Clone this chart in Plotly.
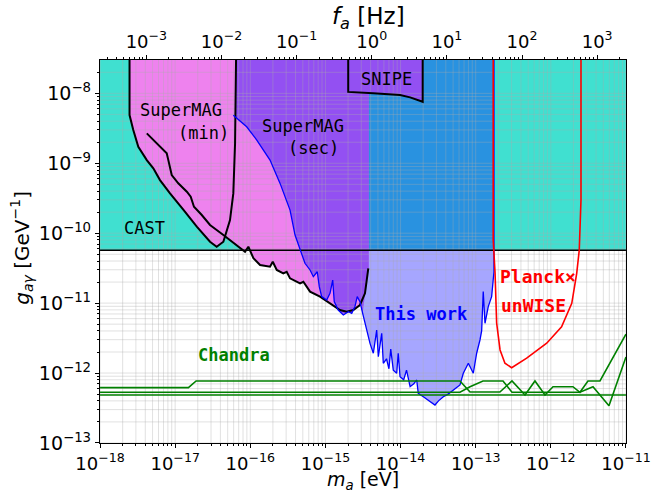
import numpy as np
import plotly.graph_objects as go

# ---------------- data ----------------
EV_TO_HZ = 2.418e14
M_MIN, M_MAX = 1e-18, 1e-11
G_MIN, G_MAX = 1e-13, 3e-8

m_ticks = [1e-18, 1e-17, 1e-16, 1e-15, 1e-14, 1e-13, 1e-12, 1e-11]
m_ticktext = ["10<sup>−18</sup>", "10<sup>−17</sup>", "10<sup>−16</sup>", "10<sup>−15</sup>",
              "10<sup>−14</sup>", "10<sup>−13</sup>", "10<sup>−12</sup>", "10<sup>−11</sup>"]
f_ticks = [1e-3, 1e-2, 1e-1, 1e0, 1e1, 1e2, 1e3]
f_ticktext = ["10<sup>−3</sup>", "10<sup>−2</sup>", "10<sup>−1</sup>", "10<sup>0</sup>",
              "10<sup>1</sup>", "10<sup>2</sup>", "10<sup>3</sup>"]
g_ticks = [1e-13, 1e-12, 1e-11, 1e-10, 1e-9, 1e-8]
g_ticktext = ["10<sup>−13</sup>", "10<sup>−12</sup>", "10<sup>−11</sup>", "10<sup>−10</sup>",
              "10<sup>−9</sup>", "10<sup>−8</sup>"]

# CAST helioscope limit
cast_m = [1e-18, 1e-11]
cast_g = [5.7e-11, 5.7e-11]

# SuperMAG (min) U-shaped region
smin_m = [2.47e-18, 2.47e-18, 2.77e-18, 3.23e-18, 4.19e-18, 5.12e-18, 6.28e-18, 8.54e-18,
          1.29e-17, 1.94e-17, 2.91e-17, 3.57e-17, 4.38e-17, 5.37e-17, 5.94e-17, 6.27e-17, 6.46e-17]
smin_g = [3e-8, 4.9e-9, 2.99e-9, 1.72e-9, 1.11e-9, 8.47e-10, 5.75e-10, 3.71e-10,
          2.15e-10, 1.24e-10, 7.55e-11, 6.41e-11, 7.55e-11, 1.54e-10, 3.71e-10, 1.93e-9, 3e-8]

# SuperMAG lower boundary (second analysis)
smag2_m = [4.19e-18, 5.12e-18, 6.62e-18, 7.72e-18, 8.11e-18, 9.0e-18, 1.10e-17, 1.43e-17,
           1.61e-17, 1.78e-17, 2.26e-17, 2.91e-17, 4.38e-17, 6.59e-17, 8.51e-17, 9.42e-17,
           1.10e-16, 1.35e-16, 1.83e-16, 1.99e-16, 2.25e-16, 2.75e-16, 3.05e-16, 3.38e-16,
           4.59e-16, 5.08e-16, 6.24e-16, 8.47e-16, 1.15e-15, 1.56e-15, 1.92e-15, 2.35e-15,
           2.88e-15, 3.36e-15, 3.72e-15]
smag2_g = [2.68e-9, 2.15e-9, 1.64e-9, 1.39e-9, 1.11e-9, 6.79e-10, 5.17e-10, 3.92e-10,
           3.32e-10, 2.39e-10, 1.82e-10, 1.31e-10, 9.42e-11, 6.78e-11, 5.43e-11, 6.41e-11,
           4.38e-11, 3.51e-11, 3.32e-11, 3.91e-11, 2.98e-11, 2.67e-11, 2.81e-11, 2.26e-11,
           1.92e-11, 2.02e-11, 1.46e-11, 1.24e-11, 9.93e-12, 7.97e-12, 7.54e-12, 7.97e-12,
           9.4e-12, 1.38e-11, 3.15e-11]

# SuperMAG (sec) region boundary
ssec_m = [6.46e-17, 5.94e-17, 8.95e-17, 1.22e-16, 1.83e-16, 2.49e-16, 3.38e-16, 3.94e-16,
          4.83e-16, 5.34e-16, 6.24e-16, 6.90e-16, 7.79e-16, 8.28e-16, 8.91e-16, 1.04e-15,
          1.15e-15, 1.25e-15, 1.31e-15, 1.48e-15, 1.73e-15, 2.02e-15, 2.24e-15, 2.47e-15,
          2.65e-15, 2.88e-15, 3.13e-15, 3.36e-15, 3.72e-15, 3.78e-15, 3.78e-15]
ssec_g = [3e-8, 4.88e-9, 3.33e-9, 2.15e-9, 1.11e-9, 5.16e-10, 2.14e-10, 9.42e-11,
          5.15e-11, 3.71e-11, 2.98e-11, 2.39e-11, 2.81e-11, 1.72e-11, 1.24e-11, 1.11e-11,
          1.38e-11, 2.14e-11, 1.05e-11, 7.97e-12, 6.76e-12, 7.54e-12, 7.14e-12, 8.9e-12,
          1.24e-11, 1.05e-11, 7.14e-12, 1.38e-11, 3.15e-11, 3.15e-11, 3e-8]

# SNIPE
snipe_m = [2.01e-15, 2.01e-15, 4.33e-15, 7.23e-15, 9.83e-15, 1.34e-14, 1.97e-14, 1.97e-14]
snipe_g = [3e-8, 1.05e-8, 1.0e-8, 9.68e-9, 9.46e-9, 8.77e-9, 7.59e-9, 3e-8]

# This work
tw_m = [5.94e-17, 8.95e-17, 1.22e-16, 1.83e-16, 2.49e-16, 3.38e-16, 3.94e-16, 4.83e-16,
        5.34e-16, 6.24e-16, 6.90e-16, 7.79e-16, 8.28e-16, 8.91e-16, 1.04e-15, 1.15e-15,
        1.25e-15, 1.31e-15, 1.48e-15, 1.73e-15, 2.02e-15, 2.24e-15, 2.47e-15, 2.65e-15,
        2.88e-15, 3.13e-15, 3.47e-15, 3.92e-15, 4.34e-15, 4.6e-15, 4.81e-15, 5.06e-15, 5.3e-15,
        5.61e-15, 5.89e-15, 6.5e-15, 7.0e-15, 7.4e-15, 8.0e-15, 8.88e-15, 9.31e-15, 9.84e-15,
        1.1e-14, 1.2e-14, 1.34e-14, 1.5e-14, 1.64e-14, 1.72e-14, 2.01e-14, 2.4e-14,
        2.87e-14, 3.2e-14, 3.71e-14, 4.3e-14, 5.04e-14, 6.18e-14, 6.84e-14, 7.98e-14, 9.29e-14,
        1.03e-13, 1.14e-13, 1.2e-13, 1.26e-13, 1.33e-13, 1.47e-13, 1.63e-13, 1.75e-13, 1.75e-13]
tw_g = [4.88e-9, 3.33e-9, 2.15e-9, 1.11e-9, 5.16e-10, 2.14e-10, 9.42e-11, 5.15e-11,
        3.71e-11, 2.98e-11, 2.39e-11, 2.81e-11, 1.72e-11, 1.24e-11, 1.11e-11, 1.38e-11,
        2.14e-11, 1.05e-11, 7.97e-12, 6.76e-12, 7.54e-12, 7.14e-12, 8.9e-12, 1.24e-11,
        1.05e-11, 7.14e-12, 4.6e-12, 2.66e-12, 1.92e-12, 2.9e-12, 4.12e-12, 1.71e-12, 2.6e-12,
        3.7e-12, 1.38e-12, 1.6e-12, 1.15e-12, 2.2e-12, 1.1e-12, 9.93e-13, 1.92e-12, 8.87e-13,
        8.0e-13, 1.1e-12, 6.38e-13, 7.0e-13, 7.96e-13, 5.13e-13, 4.59e-13, 4.0e-13,
        3.49e-13, 4.0e-13, 4.59e-13, 5.0e-13, 5.73e-13, 6.75e-13, 9.93e-13, 1.38e-12, 9.93e-13,
        1.92e-12, 2.97e-12, 4.0e-12, 1.46e-11, 5.14e-12, 8.9e-12, 1.24e-11, 2.81e-11, 3e-8]

# Planck x unWISE
pl_m = [1.71e-13, 1.71e-13, 1.81e-13, 1.90e-13, 2.11e-13, 2.45e-13, 3.01e-13, 4.77e-13,
        8.81e-13, 1.39e-12, 1.90e-12, 2.21e-12, 2.39e-12, 2.52e-12, 2.52e-12]
pl_g = [3e-8, 8.0e-11, 2.70e-11, 5.2e-12, 2.14e-12, 1.38e-12, 1.19e-12, 1.63e-12,
        2.67e-12, 4.6e-12, 9.93e-12, 2.67e-11, 5.75e-11, 2.98e-10, 3e-8]

# Chandra
ch1_m = [1e-18, 1.5e-17, 1.9e-17, 6.18e-14, 8.4e-14, 2.1e-13, 3.04e-13, 4.53e-13, 6.15e-13,
         8.36e-13, 1.07e-12, 1.97e-12, 2.44e-12, 3.12e-12, 4.51e-12, 1e-11]
ch1_g = [6.18e-13, 6.18e-13, 7.7e-13, 7.7e-13, 5.36e-13, 5.36e-13, 7.7e-13, 4.86e-13, 7.7e-13,
         4.86e-13, 6.38e-13, 6.38e-13, 5.31e-13, 7.7e-13, 7.7e-13, 3.6e-12]
ch2_m = [1e-18, 6.18e-14, 8.4e-14, 1.25e-13, 2.31e-13, 3.04e-13, 2.44e-12, 3.64e-12, 5.94e-12, 1e-11]
ch2_g = [5.31e-13, 5.31e-13, 6.38e-13, 7.7e-13, 7.7e-13, 5.31e-13, 5.31e-13, 6.38e-13, 3.41e-13, 1.7e-12]
ch3_m = [1e-18, 1e-11]
ch3_g = [4.86e-13, 4.86e-13]

TURQ = "#40E0D0"
PINK = "#EE82EE"
PURP = "#9350F2"
TW_FILL = "rgba(0,0,255,0.35)"

fig = go.Figure()

def poly(xs, ys, color):
    fig.add_trace(go.Scatter(x=xs, y=ys, mode="lines", fill="toself", fillcolor=color,
                             line=dict(width=0), hoverinfo="skip", showlegend=False))

def line(xs, ys, color, w):
    fig.add_trace(go.Scatter(x=xs, y=ys, mode="lines", line=dict(color=color, width=w),
                             hoverinfo="skip", showlegend=False))

# fills
poly([cast_m[0], cast_m[1], cast_m[1], cast_m[0]], [cast_g[0], cast_g[1], G_MAX, G_MAX], TURQ)
poly(tw_m + [tw_m[0]], tw_g + [G_MAX], TW_FILL)
poly([smag2_m[0]] + smag2_m + [smag2_m[-1]], [G_MAX] + smag2_g + [G_MAX], PINK)
poly(ssec_m, ssec_g, PURP)
poly(smin_m, smin_g, PINK)
poly(snipe_m, snipe_g, PURP)

# grid (drawn above the fills, below the lines)
minor_m, minor_g = [], []
for k in range(-18, -11):
    for j in range(2, 10):
        minor_m.append(j * 10.0 ** k)
for k in range(-13, -7):
    for j in range(2, 10):
        if j * 10.0 ** k <= G_MAX:
            minor_g.append(j * 10.0 ** k)
minor_f = []
for k in range(-4, 4):
    for j in range(2, 10):
        v = j * 10.0 ** k
        if M_MIN * EV_TO_HZ <= v <= M_MAX * EV_TO_HZ:
            minor_f.append(v)

gx, gy = [], []
for v in m_ticks + minor_m:
    gx += [v, v, None]
    gy += [G_MIN, G_MAX, None]
for v in g_ticks + minor_g:
    gx += [M_MIN, M_MAX, None]
    gy += [v, v, None]
fig.add_trace(go.Scatter(x=gx, y=gy, mode="lines", line=dict(color="rgba(170,170,170,0.45)", width=0.8),
                         hoverinfo="skip", showlegend=False))

# lines
line(cast_m, cast_g, "black", 1.5)
line(smin_m, smin_g, "black", 2)
line(smag2_m, smag2_g, "black", 2)
line(snipe_m, snipe_g, "black", 2)
line(tw_m, tw_g, "blue", 1.3)
line(pl_m, pl_g, "red", 1.6)
line(ch1_m, ch1_g, "green", 1.6)
line(ch2_m, ch2_g, "green", 1.6)
line(ch3_m, ch3_g, "green", 1.6)

# dummy trace for the frequency axis
fig.add_trace(go.Scatter(x=[M_MIN * EV_TO_HZ, M_MAX * EV_TO_HZ], y=[G_MIN, G_MIN], xaxis="x2",
                         mode="markers", marker=dict(opacity=0), hoverinfo="skip", showlegend=False))

MONO = "DejaVu Sans Mono"
def label(x, y, text, color="black", size=17):
    fig.add_annotation(x=np.log10(x), y=np.log10(y), text=text, showarrow=False,
                       font=dict(family=MONO, size=size, color=color), xref="x", yref="y")

label(1.2e-17, 5.77e-9, "SuperMAG")
label(2.35e-17, 2.7e-9, "(min)")
label(5.03e-16, 3.4e-9, "SuperMAG")
label(6.84e-16, 1.65e-9, "(sec)")
label(6.4e-15, 1.6e-8, "SNIPE")
label(3.86e-18, 1.19e-10, "CAST")
label(1.87e-14, 6.98e-12, "<b>This work</b>", "blue")
label(6.75e-13, 2.38e-11, "<b>Planck×</b>", "red", 18)
label(5.79e-13, 9.4e-12, "<b>unWISE</b>", "red", 18)
label(6.07e-17, 1.82e-12, "<b>Chandra</b>", "green")

# axis titles
fig.add_annotation(xref="paper", yref="paper", x=0.5, y=0, yanchor="middle", yshift=-37,
                   text="<i>m<sub>a</sub></i> [eV]", showarrow=False,
                   font=dict(family="DejaVu Sans", size=19, color="black"))
fig.add_annotation(xref="paper", yref="paper", x=0.51, y=1, yanchor="middle", yshift=42,
                   text="<i>f<sub>a</sub></i> [Hz]", showarrow=False,
                   font=dict(family="DejaVu Sans", size=23, color="black"))
fig.add_annotation(xref="paper", yref="paper", x=0, y=0.51, xanchor="center", xshift=-78,
                   text="<i>g<sub>aγ</sub></i> [GeV<sup>−1</sup>]", showarrow=False, textangle=-90,
                   font=dict(family="DejaVu Sans", size=20, color="black"))

def axis_common(minor_vals, size):
    return dict(type="log", showgrid=False, zeroline=False, showline=True, linecolor="black",
                linewidth=1.3, ticks="outside", ticklen=4, tickcolor="black", automargin=False,
                tickmode="array",
                tickfont=dict(family="DejaVu Sans", size=size, color="black"),
                minor=dict(ticks="outside", ticklen=2, tickcolor="black", showgrid=False,
                           tickmode="array", tickvals=minor_vals))

EPS = 0.0005
fig.update_layout(
    width=651, height=494, margin=dict(l=100, r=25, t=60, b=51),
    plot_bgcolor="white", paper_bgcolor="white",
    font=dict(family="DejaVu Sans", color="black"),
    xaxis=dict(axis_common(minor_m, 18), range=[np.log10(M_MIN) - EPS, np.log10(M_MAX) + EPS],
               tickvals=m_ticks, ticktext=m_ticktext),
    xaxis2=dict(axis_common(minor_f, 18), overlaying="x", side="top", anchor="y",
                range=[np.log10(M_MIN * EV_TO_HZ) - EPS, np.log10(M_MAX * EV_TO_HZ) + EPS],
                tickvals=f_ticks, ticktext=f_ticktext),
    yaxis=dict(axis_common(minor_g, 19), range=[np.log10(G_MIN) - EPS, np.log10(G_MAX)], mirror=True,
               tickvals=g_ticks, ticktext=g_ticktext),
)

fig.write_html("out.html")
